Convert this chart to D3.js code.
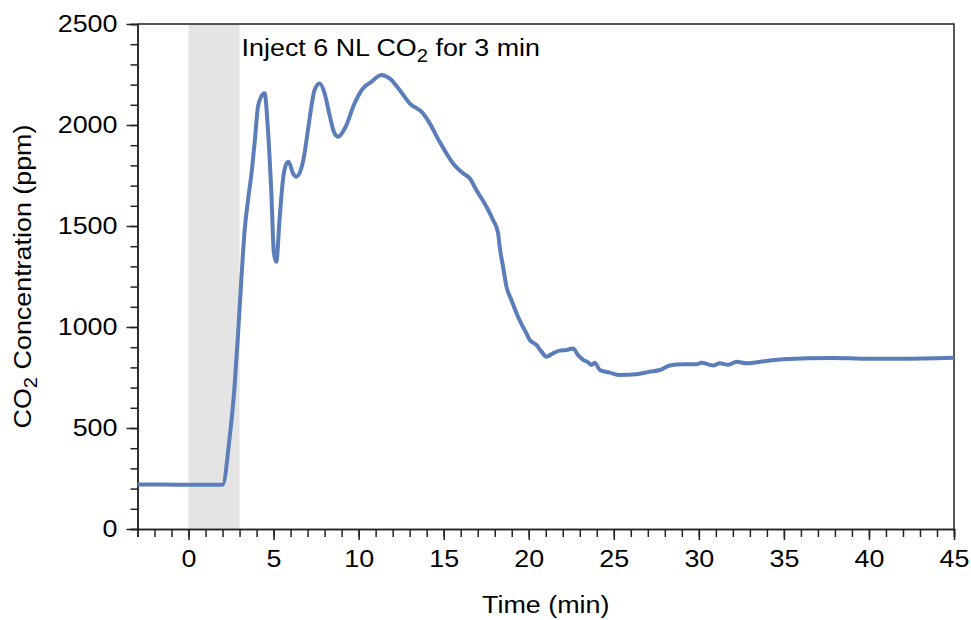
<!DOCTYPE html>
<html>
<head>
<meta charset="utf-8">
<script src="https://cdn.jsdelivr.net/npm/d3@7"></script>
<style>
  body { margin: 0; background: #fff; }
  text { font-family: "Liberation Sans", Arial, sans-serif; fill: #000; }
</style>
</head>
<body>
<svg id="chart"></svg>
<script>
// Time after injection (min)
const times = [-3, -1.5, 0, 1, 2, 2.4, 2.7, 2.9, 3.1, 3.3, 3.5, 3.7, 3.9, 4.08, 4.27, 4.47, 4.67, 4.86,
  5.02, 5.16, 5.35, 5.55, 5.71, 5.88, 6.14, 6.33, 6.63, 6.82, 7.02, 7.22, 7.41, 7.71, 8.0, 8.29,
  8.55, 8.8, 9.2, 9.76, 10.25, 10.75, 11.33, 11.82, 12.41, 13.0, 13.78, 14.18, 14.76, 15.55, 16.14,
  16.53, 16.92, 17.51, 17.9, 18.2, 18.29, 18.49, 18.69, 18.98, 19.37, 19.86, 20.06, 20.45, 20.75,
  21.04, 21.43, 21.82, 22.22, 22.61, 22.9, 23.2, 23.49, 23.69, 23.88, 24.18, 24.76, 25.35, 26.33,
  27.12, 27.7, 28.29, 29.08, 29.86, 30.16, 30.84, 31.24, 31.73, 32.22, 32.8, 33.98, 34.96, 37.9,
  39.86, 41.8, 45];

// CO2 concentration (ppm)
const co2 = [220, 220, 219, 219, 219, 440, 700, 950, 1230, 1480, 1630, 1760, 1925, 2090, 2140, 2157, 1975, 1680,
  1365, 1323, 1530, 1728, 1800, 1818, 1761, 1744, 1786, 1860, 1975, 2090, 2173, 2206, 2157, 2050,
  1965, 1942, 1985, 2107, 2181, 2214, 2248, 2231, 2173, 2107, 2058, 2008, 1917, 1810, 1761,
  1736, 1678, 1596, 1530, 1464, 1398, 1299, 1200, 1134, 1051, 969, 936, 911, 878,
  853, 870, 883, 886, 894, 861, 837, 825, 812, 823, 787, 774, 762, 766,
  779, 787, 809, 815, 815, 823, 810, 820, 813, 828, 820, 832, 840, 847,
  843, 843, 848];

// Injection window (min)
const injectWindow = [0, 3];

const xTicks = [0, 5, 10, 15, 20, 25, 30, 35, 40, 45];
const yTicks = [0, 500, 1000, 1500, 2000, 2500];

const config = {
  width: 971,
  height: 620,
  margin: { top: 24, right: 17, bottom: 91, left: 137.5 },
  fontSize: 24,
  stretch: 1.12   // source text is a bit wider than Arial
};

const width = config.width - config.margin.left - config.margin.right;
const height = config.height - config.margin.top - config.margin.bottom;

const svg = d3.select('#chart')
  .attr('width', config.width)
  .attr('height', config.height);

const chart = svg.append('g')
  .attr('transform', `translate(${config.margin.left},${config.margin.top})`);

const xScale = d3.scaleLinear().domain([-3, 45]).range([0, width]);
const yScale = d3.scaleLinear().domain([0, 2500]).range([height, 0]);

// Grey band for the injection period
chart.append('rect')
  .attr('x', xScale(injectWindow[0]))
  .attr('y', 0)
  .attr('width', xScale(injectWindow[1]) - xScale(injectWindow[0]))
  .attr('height', height)
  .attr('fill', '#e4e4e4');

// Frame on top and right
chart.append('path')
  .attr('d', `M0,0H${width}V${height}`)
  .attr('fill', 'none')
  .attr('stroke', '#222')
  .attr('stroke-width', 1.5);

// Minor ticks first, major axes drawn over them
const xMinor = d3.axisBottom(xScale).tickValues(d3.range(-3, 46, 1)).tickSize(8).tickFormat('');
const yMinor = d3.axisLeft(yScale).tickValues(d3.range(0, 2501, 100)).tickSize(7).tickFormat('');

const xAxis = d3.axisBottom(xScale).tickValues(xTicks).tickSize(11).tickPadding(10)
  .tickSizeOuter(0).tickFormat(d3.format('d'));
const yAxis = d3.axisLeft(yScale).tickValues(yTicks).tickSize(11).tickPadding(9)
  .tickSizeOuter(0).tickFormat(d3.format('d'));

chart.append('g').attr('class', 'axis').attr('transform', `translate(0,${height})`).call(xMinor);
chart.append('g').attr('class', 'axis').call(yMinor);
const xAxisG = chart.append('g').attr('class', 'axis x-axis').attr('transform', `translate(0,${height})`).call(xAxis);
const yAxisG = chart.append('g').attr('class', 'axis y-axis').call(yAxis);

chart.selectAll('.axis path, .axis line')
  .attr('stroke', '#222')
  .attr('stroke-width', 1.5);

chart.selectAll('.axis text')
  .attr('font-size', config.fontSize + 'px')
  .attr('font-family', '"Liberation Sans", Arial, sans-serif')
  .attr('fill', '#000');

// stretch labels sideways around their anchor
xAxisG.selectAll('text').attr('transform', `scale(${config.stretch},1)`);
yAxisG.selectAll('text')
  .attr('x', 0)
  .attr('transform', `translate(-20,0) scale(${config.stretch},1)`);

// The measured curve
const points = times.map((t, i) => ({ t: t, v: co2[i] }));

const line = d3.line()
  .x(d => xScale(d.t))
  .y(d => yScale(d.v))
  .curve(d3.curveMonotoneX);

chart.append('path')
  .datum(points)
  .attr('d', line)
  .attr('fill', 'none')
  .attr('stroke', '#5b7dba')
  .attr('stroke-width', 4)
  .attr('stroke-linejoin', 'round');

// Annotation
const note = chart.append('text')
  .attr('transform', `translate(${xScale(injectWindow[1]) + 2},32) scale(${config.stretch},1)`)
  .attr('font-size', config.fontSize + 'px');
note.append('tspan').text('Inject 6 NL CO');
note.append('tspan').attr('font-size', '18px').attr('dy', 6).text('2');
note.append('tspan').attr('dy', -6).text(' for 3 min');

// Axis titles
svg.append('text')
  .attr('transform', `translate(${config.margin.left + width / 2},613) scale(${config.stretch},1)`)
  .attr('text-anchor', 'middle')
  .attr('font-size', config.fontSize + 'px')
  .text('Time (min)');

const yTitle = svg.append('text')
  .attr('transform', `translate(31,${config.margin.top + height / 2}) rotate(-90) scale(${config.stretch},1)`)
  .attr('text-anchor', 'middle')
  .attr('font-size', config.fontSize + 'px');
yTitle.append('tspan').text('CO');
yTitle.append('tspan').attr('font-size', '18px').attr('dy', 6).text('2');
yTitle.append('tspan').attr('dy', -6).text(' Concentration (ppm)');
</script>
</body>
</html>
